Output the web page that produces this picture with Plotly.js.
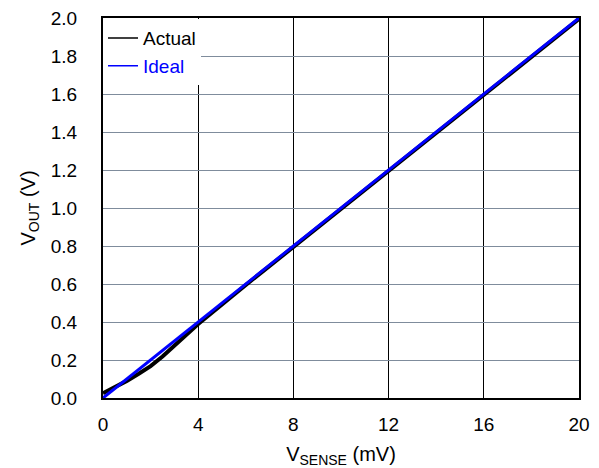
<!DOCTYPE html>
<html>
<head>
<meta charset="utf-8">
<script src="https://cdn.plot.ly/plotly-3.0.1.min.js"></script>
<style>html,body{margin:0;padding:0;background:#fff;}#chart{width:599px;height:468px;}</style>
</head>
<body>
<div id="chart"></div>
<script>
const vsense = [0, 0.5, 1, 1.5, 2, 2.5, 3, 3.5, 4, 6, 8, 10, 12, 14, 16, 18, 20];
const actualVout = [0.025, 0.055, 0.09, 0.128, 0.168, 0.218, 0.273, 0.333, 0.39, 0.595, 0.795, 0.995, 1.195, 1.395, 1.595, 1.795, 1.995];
const idealX = [0, 20];
const idealVout = [0, 2.0];
const xTicks = [0, 4, 8, 12, 16, 20];
const yTicks = [0, 0.2, 0.4, 0.6, 0.8, 1.0, 1.2, 1.4, 1.6, 1.8, 2.0];

const traces = [
  {x: vsense, y: actualVout, mode: 'lines', name: 'Actual', showlegend: false,
   line: {color: '#000000', width: 4}},
  {x: idealX, y: idealVout, mode: 'lines', name: 'Ideal', showlegend: false,
   line: {color: '#0000ff', width: 3}},
  {x: [null], y: [null], mode: 'lines', name: 'Actual',
   line: {color: '#000000', width: 1.5}},
  {x: [null], y: [null], mode: 'lines', name: '<span style="color:#0000ff">Ideal</span>',
   line: {color: '#0000ff', width: 1.5}}
];

const fam = 'Liberation Sans, Arial, sans-serif';
const font = {family: fam, size: 20, color: '#000'};

const layout = {
  width: 599, height: 468,
  margin: {l: 103, r: 20, t: 18, b: 70},
  paper_bgcolor: '#fff', plot_bgcolor: '#fff',
  font: font,
  showlegend: true,
  legend: {x: 0.0, y: 0.997, xanchor: 'left', yanchor: 'top', bgcolor: '#fff',
           font: {family: fam, size: 19}, tracegroupgap: 0, itemwidth: 30},
  xaxis: {
    range: [0, 20], tickvals: xTicks, ticktext: xTicks.map(String),
    showgrid: true, gridcolor: '#000', gridwidth: 1,
    showline: true, linecolor: '#000', linewidth: 2, mirror: true,
    ticks: 'outside', ticklen: 8, tickcolor: 'rgba(0,0,0,0)',
    tickfont: {family: fam, size: 19},
    zeroline: false,
    title: {text: 'V<sub>SENSE</sub> (mV)', font: {family: fam, size: 20}, standoff: 14}
  },
  yaxis: {
    range: [0, 2.0], tickvals: yTicks, ticktext: yTicks.map(v => v.toFixed(1)),
    showgrid: true, gridcolor: '#7f8c9c', gridwidth: 1,
    showline: true, linecolor: '#000', linewidth: 2, mirror: true,
    ticks: 'outside', ticklen: 20, tickcolor: 'rgba(0,0,0,0)',
    tickfont: {family: fam, size: 19},
    zeroline: false,
    title: {text: 'V<sub>OUT</sub> (V)', font: {family: fam, size: 20}, standoff: 10}
  }
};

Plotly.newPlot('chart', traces, layout, {displayModeBar: false, staticPlot: true});
</script>
</body>
</html>
